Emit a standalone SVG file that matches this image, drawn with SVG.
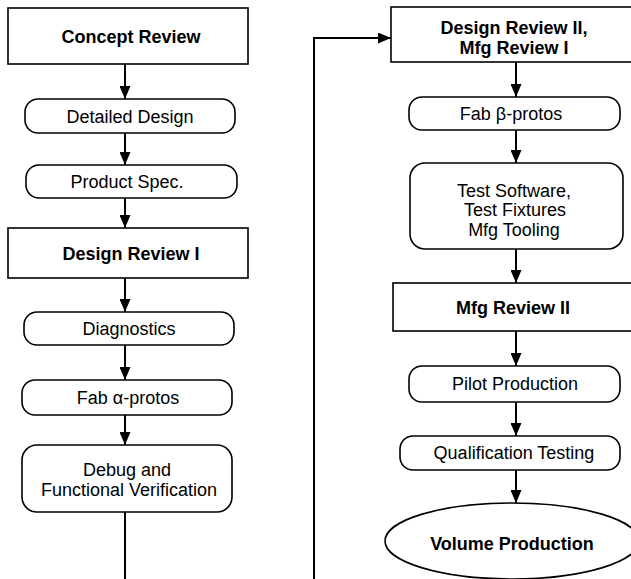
<svg xmlns="http://www.w3.org/2000/svg" width="631" height="579" viewBox="0 0 631 579">
<defs>
<marker id="arr" markerUnits="userSpaceOnUse" markerWidth="13" markerHeight="11" refX="13" refY="5.5" orient="auto">
<path d="M0,0 L13,5.5 L0,11 z" fill="#000"/>
</marker>
<style>
.box{fill:#fff;stroke:#000;stroke-width:1.6}
.t{font-family:"Liberation Sans",Arial,sans-serif;font-size:18px;fill:#000;text-anchor:middle}
.b{font-weight:bold}
.c{fill:none;stroke:#000;stroke-width:2}
</style>
</defs>
<rect width="631" height="579" fill="#fff"/>
<g id="connectors">
<line class="c" x1="125" y1="64" x2="125" y2="99" marker-end="url(#arr)"/>
<line class="c" x1="125" y1="133" x2="125" y2="165" marker-end="url(#arr)"/>
<line class="c" x1="125" y1="198" x2="125" y2="228" marker-end="url(#arr)"/>
<line class="c" x1="125" y1="278" x2="125" y2="312" marker-end="url(#arr)"/>
<line class="c" x1="125" y1="345" x2="125" y2="380" marker-end="url(#arr)"/>
<line class="c" x1="125" y1="415" x2="125" y2="445" marker-end="url(#arr)"/>
<line class="c" x1="125" y1="512" x2="125" y2="580"/>
<polyline class="c" points="314,580 314,38 391,38" marker-end="url(#arr)"/>
<line class="c" x1="516" y1="62" x2="516" y2="97" marker-end="url(#arr)"/>
<line class="c" x1="516" y1="130" x2="516" y2="163" marker-end="url(#arr)"/>
<line class="c" x1="516" y1="249" x2="516" y2="283" marker-end="url(#arr)"/>
<line class="c" x1="516" y1="331" x2="516" y2="366" marker-end="url(#arr)"/>
<line class="c" x1="516" y1="402" x2="516" y2="436" marker-end="url(#arr)"/>
<line class="c" x1="516" y1="470" x2="516" y2="503" marker-end="url(#arr)"/>
</g>
<g id="concept-review">
<rect class="box" x="8" y="8" width="240" height="56"/>
<text class="t b" x="131" y="42.5">Concept Review</text>
</g>
<g id="detailed-design">
<rect class="box" x="25" y="99" width="210" height="34" rx="13"/>
<text class="t" x="130" y="122.5">Detailed Design</text>
</g>
<g id="product-spec">
<rect class="box" x="26" y="165" width="211" height="33" rx="13"/>
<text class="t" x="127" y="188">Product Spec.</text>
</g>
<g id="design-review-1">
<rect class="box" x="8" y="228" width="240" height="50"/>
<text class="t b" x="131" y="259.5">Design Review I</text>
</g>
<g id="diagnostics">
<rect class="box" x="24" y="312" width="210" height="33" rx="13"/>
<text class="t" x="129" y="335">Diagnostics</text>
</g>
<g id="fab-alpha">
<rect class="box" x="22" y="380" width="210" height="35" rx="13"/>
<text class="t" x="128" y="404">Fab α-protos</text>
</g>
<g id="debug">
<rect class="box" x="22" y="445" width="210" height="67" rx="15"/>
<text class="t" x="127" y="476">Debug and</text>
<text class="t" x="129" y="495.5">Functional Verification</text>
</g>
<g id="design-review-2">
<rect class="box" x="391" y="7" width="246" height="55"/>
<text class="t b" x="514" y="34">Design Review II,</text>
<text class="t b" x="514" y="53.5">Mfg Review I</text>
</g>
<g id="fab-beta">
<rect class="box" x="409" y="97" width="211" height="33" rx="13"/>
<text class="t" x="511" y="120">Fab β-protos</text>
</g>
<g id="test-software">
<rect class="box" x="410" y="163" width="213" height="86" rx="15"/>
<text class="t" x="514" y="196.5">Test Software,</text>
<text class="t" x="515" y="216">Test Fixtures</text>
<text class="t" x="514" y="235.5">Mfg Tooling</text>
</g>
<g id="mfg-review-2">
<rect class="box" x="393" y="283" width="244" height="48"/>
<text class="t b" x="513" y="314">Mfg Review II</text>
</g>
<g id="pilot-production">
<rect class="box" x="409" y="366" width="211" height="36" rx="13"/>
<text class="t" x="515" y="390">Pilot Production</text>
</g>
<g id="qualification-testing">
<rect class="box" x="400" y="436" width="220" height="34" rx="13"/>
<text class="t" x="514" y="459">Qualification Testing</text>
</g>
<g id="volume-production">
<ellipse class="box" cx="512" cy="541" rx="127" ry="38"/>
<text class="t b" x="512" y="550">Volume Production</text>
</g>
</svg>
